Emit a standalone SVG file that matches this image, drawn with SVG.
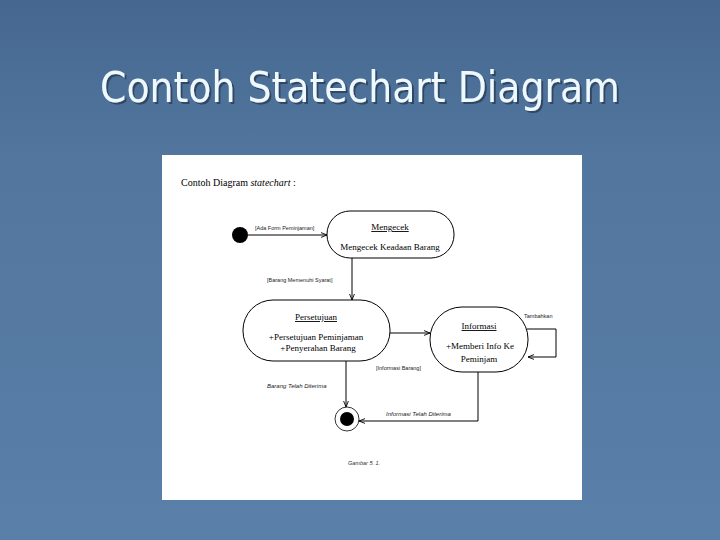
<svg xmlns="http://www.w3.org/2000/svg" width="720" height="540" viewBox="0 0 720 540">
<defs>
<linearGradient id="bg" x1="0" y1="0" x2="0" y2="1">
<stop offset="0" stop-color="#466890"/>
<stop offset="0.3" stop-color="#52769e"/>
<stop offset="1" stop-color="#5a7fa8"/>
</linearGradient>
<filter id="sh" x="-5%" y="-20%" width="110%" height="140%">
<feDropShadow dx="2" dy="2" stdDeviation="0.6" flood-color="#1c2c40" flood-opacity="0.6"/>
</filter>
<marker id="ar" viewBox="0 0 10 10" refX="10" refY="5" markerWidth="6" markerHeight="6" orient="auto" markerUnits="userSpaceOnUse">
<path d="M0,1 L10,5 L0,9" fill="none" stroke="#000" stroke-width="1.5"/>
</marker>
<style>
.st{fill:#fff;stroke:#000;stroke-width:1}
.nm{font-family:"Liberation Serif",serif;font-size:9px;text-decoration:underline;text-anchor:middle;fill:#000}
.tx{font-family:"Liberation Serif",serif;font-size:9px;text-anchor:middle;fill:#000}
.lb{font-family:"Liberation Sans",sans-serif;font-size:5.5px;fill:#222}
.lbi{font-family:"Liberation Sans",sans-serif;font-size:6px;font-style:italic;fill:#222}
.cn{fill:none;stroke:#000;stroke-width:1}
</style>
</defs>
<rect width="720" height="540" fill="url(#bg)"/>
<text x="360" y="102" font-family="DejaVu Sans Condensed, DejaVu Sans, sans-serif" font-stretch="condensed" font-size="42" text-anchor="middle" fill="#eef8ff" filter="url(#sh)">Contoh Statechart Diagram</text>
<rect x="162" y="155" width="420" height="345" fill="#fff"/>
<text x="181" y="186" font-family="Liberation Serif, serif" font-size="10" fill="#000">Contoh Diagram <tspan font-style="italic">statechart</tspan> :</text>
<g id="connectors">
<line class="cn" x1="248" y1="235" x2="327" y2="235" marker-end="url(#ar)"/>
<line class="cn" x1="352" y1="258" x2="352" y2="300" marker-end="url(#ar)"/>
<line class="cn" x1="390" y1="333" x2="430" y2="333" marker-end="url(#ar)"/>
<polyline class="cn" points="527,329 556,329 556,357 528,357" marker-end="url(#ar)"/>
<line class="cn" x1="346" y1="361" x2="346" y2="407" marker-end="url(#ar)"/>
<polyline class="cn" points="478,372 478,421 359,421" marker-end="url(#ar)"/>
<text class="lb" x="255" y="230">[Ada Form Peminjaman]</text>
<text class="lb" x="267" y="282">[Barang Memenuhi Syarat]</text>
<text class="lb" x="524" y="318">Tambahkan</text>
<text class="lb" x="376" y="370">[Informasi Barang]</text>
<text class="lbi" x="267" y="388">Barang Telah Diterima</text>
<text class="lbi" x="386" y="416">Informasi Telah Diterima</text>
</g>
<g id="start"><circle cx="240" cy="235" r="8" fill="#000"/></g>
<g id="mengecek">
<rect class="st" x="327" y="211" width="127" height="47" rx="23"/>
<text class="nm" x="390" y="230">Mengecek</text>
<text class="tx" x="390" y="250">Mengecek Keadaan Barang</text>
</g>
<g id="persetujuan">
<rect class="st" x="243" y="300" width="147" height="61" rx="30"/>
<text class="nm" x="316" y="320">Persetujuan</text>
<text class="tx" x="316" y="340">+Persetujuan Peminjaman</text>
<text class="tx" x="318" y="351">+Penyerahan Barang</text>
</g>
<g id="informasi">
<rect class="st" x="430" y="307" width="98" height="65" rx="32"/>
<text class="nm" x="479" y="329">Informasi</text>
<text class="tx" x="480" y="349">+Memberi Info Ke</text>
<text class="tx" x="479" y="362">Peminjam</text>
</g>
<g id="end">
<circle cx="347" cy="419" r="12" fill="#fff" stroke="#000" stroke-width="0.8"/>
<circle cx="347" cy="419" r="7" fill="#000"/>
</g>
<text x="348" y="465" font-family="Liberation Sans, sans-serif" font-size="5.5" font-style="italic" fill="#333">Gambar 5. 1.</text>
</svg>
